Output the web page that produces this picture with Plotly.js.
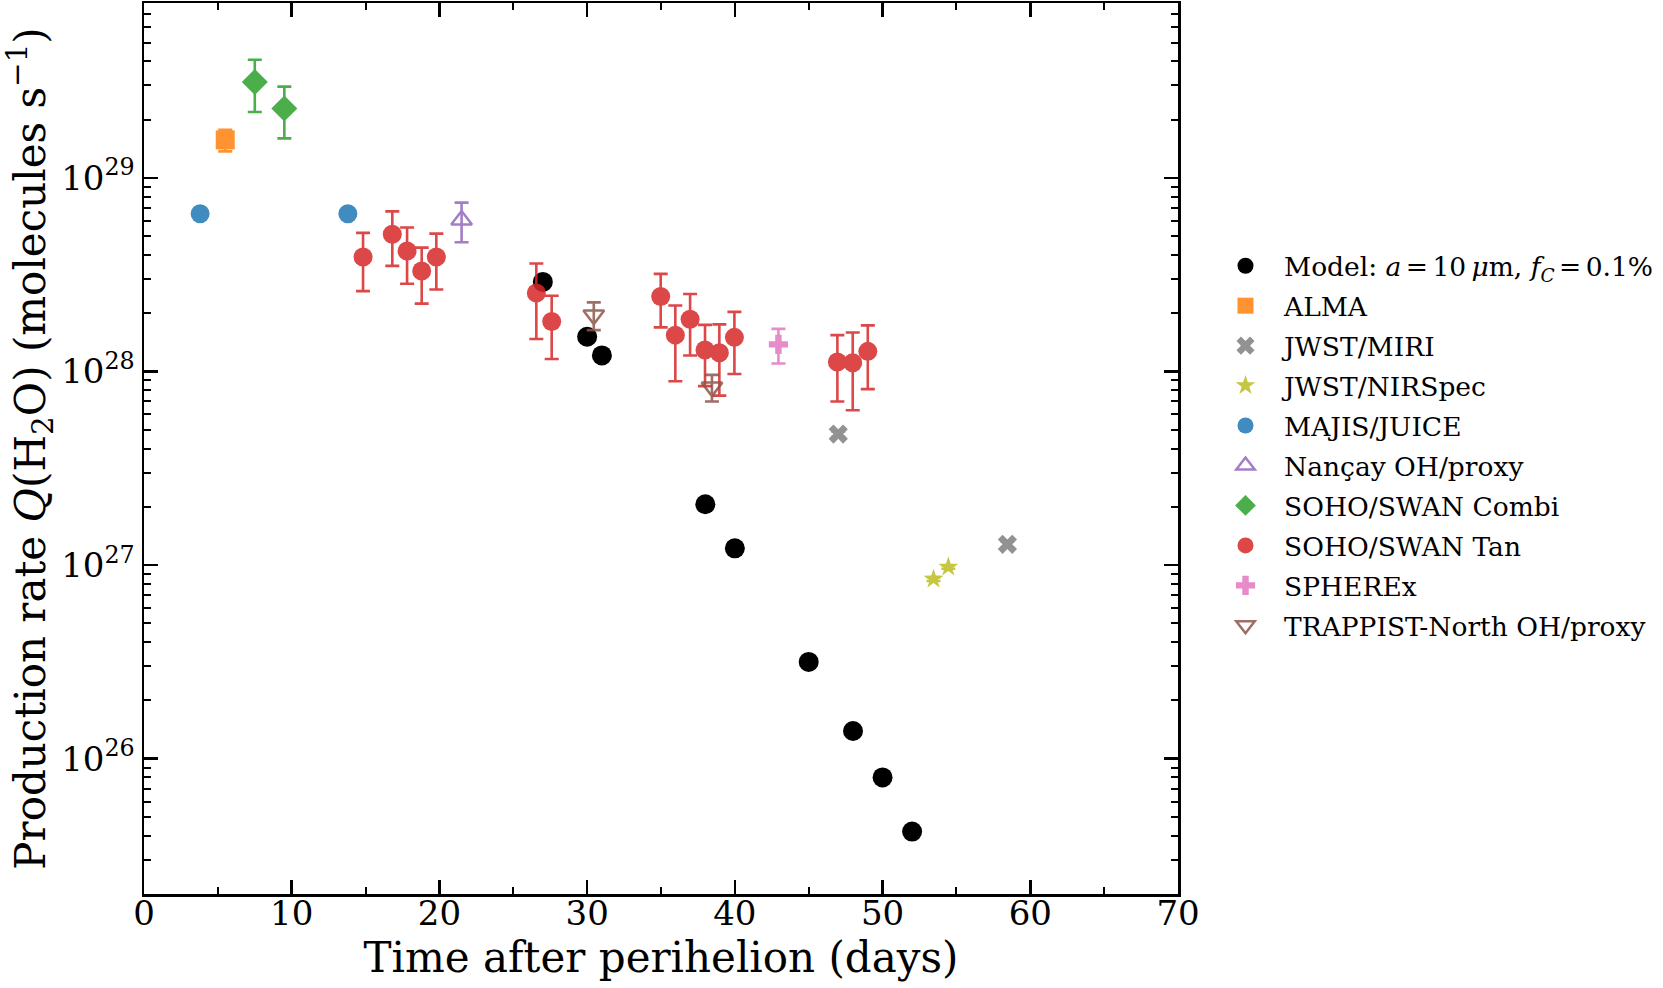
<!DOCTYPE html>
<html>
<head>
<meta charset="utf-8">
<script src="https://cdn.plot.ly/plotly-3.0.1.min.js"></script>
<style>html,body{margin:0;padding:0;background:#fff;}#chart{width:1663px;height:988px;}</style>
</head>
<body>
<div id="chart"></div>
<script>
// ---- data ----
const modelT = [27.0, 30.0, 31.0, 38.0, 40.0, 45.0, 48.0, 50.0, 52.0];
const modelQ = [2.90e28, 1.51e28, 1.21e28, 2.06e27, 1.22e27, 3.16e26, 1.39e26, 8.0e25, 4.2e25];

const almaT = [5.5];
const almaQ = [1.57e29];
const almaErr = [0.2e29];

const miriT = [47.0, 58.45];
const miriQ = [4.75e27, 1.28e27];
const miriErr = [0.15e27, 0.05e27];

const nirspecT = [53.45, 54.45];
const nirspecQ = [8.47e26, 9.77e26];
const nirspecErr = [0.2e26, 0.2e26];

const majisT = [3.8, 13.8];
const majisQ = [6.52e28, 6.52e28];
const majisErr = [0.1e28, 0.1e28];

const nancayT = [21.5];
const nancayQ = [6.05e28];
const nancayErr = [1.4e28];

const combiT = [7.5, 9.5];
const combiQ = [3.13e29, 2.28e29];
const combiErr = [0.94e29, 0.68e29];

const tanT = [14.83, 16.81, 17.81, 18.80, 19.79, 26.56, 27.60, 34.98, 35.97, 36.97, 37.98, 38.95, 39.97, 46.94, 47.98, 49.0];
const tanQ = [3.90e28, 5.11e28, 4.19e28, 3.30e28, 3.90e28, 2.54e28, 1.81e28, 2.44e28, 1.54e28, 1.86e28, 1.29e28, 1.25e28, 1.50e28, 1.12e28, 1.11e28, 1.27e28];
const tanErr = [1.3e28, 1.6e28, 1.35e28, 1.06e28, 1.25e28, 1.07e28, 0.65e28, 0.75e28, 0.65e28, 0.65e28, 0.45e28, 0.5e28, 0.53e28, 0.42e28, 0.48e28, 0.46e28];

const spherexT = [42.95];
const spherexQ = [1.38e28];
const spherexErr = [0.28e28];

const trappistT = [30.45, 38.45];
const trappistQ = [1.955e28, 0.83e28];
const trappistErr = [0.32e28, 0.13e28];

// axis ticks
const xMajor = [0, 10, 20, 30, 40, 50, 60, 70];
const yMajorExp = [26, 27, 28, 29];
const minorDecades = [25, 26, 27, 28, 29];
const minorMult = [2, 3, 4, 5, 6, 7, 8, 9];

// ---- build ----
const FONT = "DejaVu Serif";
function errTrace(name, t, q, e, color, symbol, size, group) {
  const open = symbol.indexOf('open') >= 0;
  return {
    type: 'scatter', mode: 'markers', name: name, x: t, y: q,
    legendgroup: group,
    opacity: 0.85,
    marker: {color: color, symbol: symbol, size: size,
             line: {color: color, width: open ? 2.5 : 0}},
    error_y: {type: 'data', array: e, visible: true, color: color, thickness: 2.6, width: 7}
  };
}

const traces = [
  {type: 'scatter', mode: 'markers',
   name: 'Model: <i>a</i>\u2006=\u200610\u2009<i>μ</i>m, <i>f</i><sub><i>C</i></sub>\u2006=\u20060.1%',
   x: modelT, y: modelQ, legendgroup: 'g0',
   marker: {color: 'black', size: 20, symbol: 'circle'}},
  errTrace('ALMA', almaT, almaQ, almaErr, '#ff7f0e', 'square', 19, 'g1'),
  errTrace('JWST/MIRI', miriT, miriQ, miriErr, '#7f7f7f', 'x', 17, 'g2'),
  errTrace('JWST/NIRSpec', nirspecT, nirspecQ, nirspecErr, '#bcbd22', 'star', 15, 'g3'),
  errTrace('MAJIS/JUICE', majisT, majisQ, majisErr, '#1f77b4', 'circle', 19, 'g4'),
  errTrace('Nançay OH/proxy', nancayT, nancayQ, nancayErr, '#9467bd', 'triangle-up-open', 18, 'g5'),
  errTrace('SOHO/SWAN Combi', combiT, combiQ, combiErr, '#2ca02c', 'diamond', 20, 'g6'),
  errTrace('SOHO/SWAN Tan', tanT, tanQ, tanErr, '#d62728', 'circle', 19, 'g7'),
  errTrace('SPHEREx', spherexT, spherexQ, spherexErr, '#e377c2', 'cross', 16, 'g8'),
  errTrace('TRAPPIST-North OH/proxy', trappistT, trappistQ, trappistErr, '#8c564b', 'triangle-down-open', 18, 'g9')
];

const yMinorVals = [];
minorDecades.forEach(d => minorMult.forEach(m => yMinorVals.push(m * Math.pow(10, d))));

const layout = {
  width: 1663, height: 988,
  paper_bgcolor: 'white', plot_bgcolor: 'white',
  margin: {l: 144, r: 485, t: 3, b: 94, pad: 0},
  font: {family: FONT, color: 'black'},
  showlegend: true,
  legend: {
    xref: 'container', yref: 'container',
    x: 1207 / 1663, y: 1 - 242 / 988, xanchor: 'left', yanchor: 'top',
    font: {family: FONT, size: 26.5, color: 'black'},
    traceorder: 'grouped', tracegroupgap: 2.5,
    itemwidth: 67, bgcolor: 'rgba(0,0,0,0)'
  },
  xaxis: {
    range: [0, 70], tickmode: 'array', tickvals: xMajor,
    ticks: 'inside', ticklen: 14, tickwidth: 2.5, tickcolor: 'black',
    minor: {dtick: 5, ticks: 'inside', ticklen: 7, tickwidth: 2, tickcolor: 'black', showgrid: false},
    showline: true, linewidth: 2.5, linecolor: 'black', mirror: 'ticks',
    showgrid: false, zeroline: false,
    tickfont: {family: FONT, size: 34}, ticklabelstandoff: -12,
    title: {text: 'Time after perihelion (days)', font: {family: FONT, size: 42}, standoff: 10},
    automargin: false
  },
  yaxis: {
    type: 'log', range: [Math.log10(2e25), Math.log10(8e29)],
    tickmode: 'array', tickvals: yMajorExp.map(e => Math.pow(10, e)),
    ticktext: yMajorExp.map(e => '10<sup>' + e + '</sup>'),
    ticks: 'inside', ticklen: 14, tickwidth: 2.5, tickcolor: 'black',
    minor: {tickmode: 'array', tickvals: yMinorVals, ticks: 'inside', ticklen: 7, tickwidth: 2, tickcolor: 'black', showgrid: false},
    showline: true, linewidth: 2.5, linecolor: 'black', mirror: 'ticks',
    showgrid: false, zeroline: false,
    tickfont: {family: FONT, size: 34}, ticklabelstandoff: 0,
    title: {text: 'Production rate <i>Q</i>(H<sub>2</sub>O) (molecules s<sup>−1</sup>)', font: {family: FONT, size: 42}, standoff: 6},
    automargin: false
  }
};

Plotly.newPlot('chart', traces, layout, {displayModeBar: false, staticPlot: true});
</script>
</body>
</html>
